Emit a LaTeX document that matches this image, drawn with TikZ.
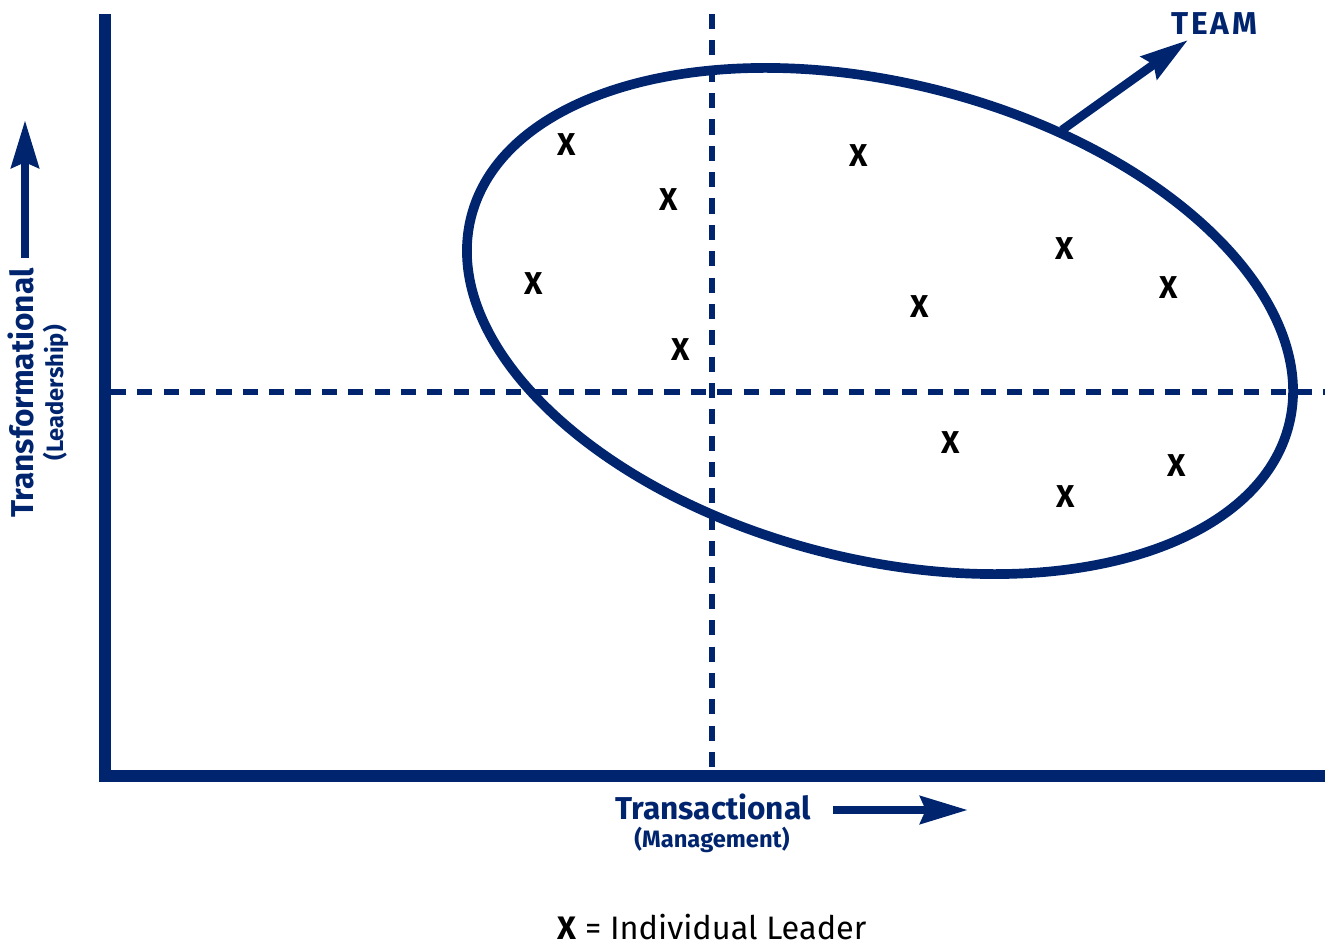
\documentclass[tikz,border=0pt]{standalone}
\usepackage{fontspec}
\setmainfont{Fira Sans}
\usepackage{tikz}
\usetikzlibrary{arrows.meta, shapes.geometric}
\definecolor{navy}{RGB}{0,37,110}
\tikzset{>={Stealth[length=27pt, width=15.5pt, inset=3pt]}}

\begin{document}
\begin{tikzpicture}[x=0.02cm, y=-0.02cm, color=navy,
        axis/.style={line width=6.8pt},
        quadline/.style={line width=3.1pt, dash pattern=on 8.6pt off 6.4pt},
        bigarrow/.style={->, line width=5pt},
        leader/.style={text=black, font=\bfseries\fontsize{18}{18}\selectfont},
        biglabel/.style={font=\bfseries\fontsize{18}{18}\selectfont},
        sublabel/.style={font=\bfseries\fontsize{13.5}{13.5}\selectfont}]

        \useasboundingbox (0,0) rectangle (1325,949);

        % axes and quadrants
        \draw[axis] (105,14) -- (105,776) -- (1325,776);
        \draw[quadline] (712,14) -- (712,770);
        \draw[quadline] (111,392) -- (1325,392);

        % team
        \coordinate (F) at (1062,130);
        \coordinate (T) at (1188,40);
        \draw[bigarrow] (F) -- (T);
        \node[draw, ellipse, line width=5.5pt, rotate=-14.3, minimum width=16.88cm, minimum height=9.52cm, inner sep=0pt] (E) at (880,321) {};
        \node[biglabel, anchor=base] (team) at (1214,35) {\addfontfeature{LetterSpace=9}TEAM};

        \foreach \px/\py [count=\i] in {567/145, 669/200, 534/284, 681/350, 859/156, 1065/249, 1169/288, 920/307, 951/443, 1066/497, 1177/466}
            \node[leader] (x\i) at (\px,\py) {X};

        % axis labels
        \node[biglabel, rotate=90, anchor=base] (trf) at (33,393) {Transformational};
        \node[sublabel, rotate=90, anchor=base] (lead) at (63,393) {(Leadership)};
        \coordinate (U0) at (25,258);
        \coordinate (U1) at (25,120);
        \draw[bigarrow] (U0) -- (U1);

        \node[biglabel, anchor=base] (trc) at (713,819) {Transactional};
        \node[sublabel, anchor=base] (mgmt) at (712,847) {(Management)};
        \coordinate (R0) at (833,810);
        \coordinate (R1) at (968,810);
        \draw[bigarrow] (R0) -- (R1);

        \node[anchor=base, text=black, font=\fontsize{18.5}{18.5}\selectfont] (key) at (712,939) {\textbf{X} = Individual Leader};
\end{tikzpicture}
\end{document}
